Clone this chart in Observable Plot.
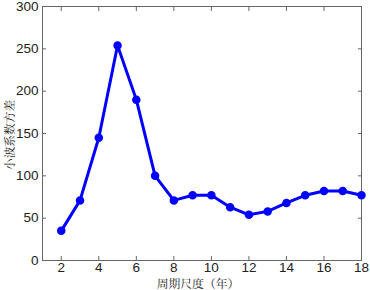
<!DOCTYPE html>
<html><head><meta charset="utf-8">
<script src="https://cdn.jsdelivr.net/npm/d3@7"></script>
<script src="https://cdn.jsdelivr.net/npm/@observablehq/plot@0.6"></script>
<style>body{margin:0;background:#fff}</style>
</head><body><div id="chart"></div>
<script>
const periods = [2,3,4,5,6,7,8,9,10,11,12,13,14,15,16,17,18];
const variance = [35,71,145,254,190,100,71,77,77,63,54,58,68,77,82,82,77];
const xTicks = [2,4,6,8,10,12,14,16,18];
const yTicks = [0,50,100,150,200,250,300];
const xLabel = "周期尺度（年）";
const yLabel = "小波系数方差";
const data = periods.map((p,i)=>({p, v: variance[i]}));
const cjk = "'Noto Serif CJK SC', 'Noto Sans CJK SC', serif";
const chart = Plot.plot({
  width: 370, height: 290,
  marginLeft: 42, marginRight: 9, marginTop: 6, marginBottom: 30,
  style: {fontFamily: "'Liberation Sans', Arial, sans-serif", fontSize: "13.5px", color: "#222", background: "#fff"},
  x: {domain: [1,18]},
  y: {domain: [0,300]},
  marks: [
    Plot.frame({stroke: "#666"}),
    Plot.axisX(xTicks, {anchor: "bottom", tickSize: -4, tickPadding: 5.5, stroke: "#666", label: null, fontSize: 13.5}),
    Plot.axisX(xTicks, {anchor: "top", tickSize: -4, tickFormat: () => "", stroke: "#666", label: null}),
    Plot.axisY(yTicks, {anchor: "left", tickSize: -4, tickPadding: 8, stroke: "#666", label: null, fontSize: 13.5}),
    Plot.axisY(yTicks, {anchor: "right", tickSize: -4, tickFormat: () => "", stroke: "#666", label: null}),
    Plot.line(data, {x: "p", y: "v", stroke: "#0000ff", strokeWidth: 3}),
    Plot.dot(data, {x: "p", y: "v", fill: "#0000ff", stroke: "#0000ff", r: 3.5})
  ]
});
const svg = d3.select(chart);
svg.append("text").attr("x", 198).attr("y", 288).attr("text-anchor","middle")
  .attr("font-family", cjk).attr("font-size", 11.8).attr("fill","#222").text(xLabel);
svg.append("text").attr("transform","translate(13.5,135) rotate(-90)").attr("text-anchor","middle")
  .attr("font-family", cjk).attr("font-size", 11.7).attr("fill","#222").text(yLabel);
document.getElementById("chart").append(chart);
</script></body></html>
